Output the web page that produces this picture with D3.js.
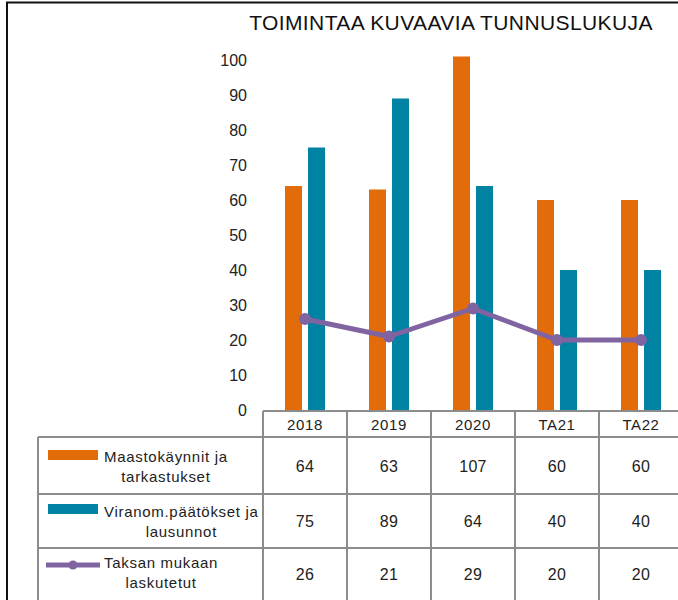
<!DOCTYPE html>
<html>
<head>
<meta charset="utf-8">
<script src="https://cdn.jsdelivr.net/npm/d3@7"></script>
<style>
  body { margin: 0; background: #fff; }
  svg { display: block; font-family: 'Liberation Sans', Arial, sans-serif; }
</style>
</head>
<body>
<div id="chart"></div>
<script>
// data
const categories = ['2018', '2019', '2020', 'TA21', 'TA22'];
const maastokaynnit = [64, 63, 107, 60, 60];
const viranomPaatokset = [75, 89, 64, 40, 40];
const taksanMukaan = [26, 21, 29, 20, 20];
const seriesNames = [
  ['Maastokäynnit ja', 'tarkastukset'],
  ['Viranom.päätökset ja', 'lausunnot'],
  ['Taksan mukaan', 'laskutetut']
];

const width = 678, height = 600;
const orange = '#E36C0A', teal = '#0082A2', purple = '#8064A2';
const gridGrey = '#8c8c8c';

const svg = d3.select('#chart').append('svg')
  .attr('width', width)
  .attr('height', height);

// outer frame (only left and top edges are in view)
svg.append('rect')
  .attr('x', 7).attr('y', 2.5)
  .attr('width', 700).attr('height', 640)
  .attr('fill', 'none')
  .attr('stroke', '#111')
  .attr('stroke-width', 2);

svg.append('text')
  .attr('x', 451).attr('y', 30)
  .attr('text-anchor', 'middle')
  .attr('font-size', 21)
  .attr('fill', '#111')
  .attr('letter-spacing', 0.4)
  .text('TOIMINTAA KUVAAVIA TUNNUSLUKUJA');

let xScale = d3.scaleBand().domain(categories).range([263, 683]);
let yScale = d3.scaleLinear().domain([0, 100]).range([410, 60]);

// y axis labels
let yAxis = d3.axisLeft(yScale).ticks(10).tickSize(0).tickPadding(0);
let gy = svg.append('g')
  .attr('transform', 'translate(247,0)')
  .call(yAxis);
gy.select('.domain').remove();
gy.selectAll('text')
  .attr('font-size', 16)
  .attr('font-family', "'Liberation Sans', Arial, sans-serif")
  .attr('fill', '#222');

// plot area clip, bars past the axis max are cut a little above 100
svg.append('clipPath').attr('id', 'plotClip')
  .append('rect')
  .attr('x', 263).attr('y', yScale(101))
  .attr('width', 420).attr('height', yScale(0) - yScale(101));

let bars = svg.append('g').attr('clip-path', 'url(#plotClip)');

bars.append('g').selectAll('rect')
  .data(maastokaynnit)
  .join('rect')
  .attr('x', (d, i) => xScale(categories[i]) + xScale.bandwidth() / 2 - 20)
  .attr('y', (d) => yScale(d))
  .attr('width', 17)
  .attr('height', (d) => yScale(0) - yScale(d))
  .attr('fill', orange);

bars.append('g').selectAll('rect')
  .data(viranomPaatokset)
  .join('rect')
  .attr('x', (d, i) => xScale(categories[i]) + xScale.bandwidth() / 2 + 3)
  .attr('y', (d) => yScale(d))
  .attr('width', 17)
  .attr('height', (d) => yScale(0) - yScale(d))
  .attr('fill', teal);

// line
let line = d3.line()
  .x((d, i) => xScale(categories[i]) + xScale.bandwidth() / 2)
  .y((d) => yScale(d));

svg.append('path')
  .datum(taksanMukaan)
  .attr('fill', 'none')
  .attr('stroke', purple)
  .attr('stroke-width', 5)
  .attr('stroke-linejoin', 'round')
  .attr('d', line);

svg.append('g').selectAll('circle')
  .data(taksanMukaan)
  .join('circle')
  .attr('cx', (d, i) => xScale(categories[i]) + xScale.bandwidth() / 2)
  .attr('cy', (d) => yScale(d))
  .attr('r', 6)
  .attr('fill', purple);

// data table
const headerTop = 411;
const rowBounds = [437, 494, 548, 603];
const tableLeft = 38;
let table = svg.append('g')
  .attr('stroke', gridGrey)
  .attr('stroke-width', 2)
  .attr('fill', 'none');

table.append('line')
  .attr('x1', xScale.range()[0]).attr('x2', xScale.range()[1])
  .attr('y1', headerTop).attr('y2', headerTop);
rowBounds.forEach((y) => {
  table.append('line')
    .attr('x1', tableLeft).attr('x2', xScale.range()[1])
    .attr('y1', y).attr('y2', y);
});
table.append('line')
  .attr('x1', tableLeft).attr('x2', tableLeft)
  .attr('y1', rowBounds[0]).attr('y2', height);
categories.forEach((c) => {
  table.append('line')
    .attr('x1', xScale(c)).attr('x2', xScale(c))
    .attr('y1', headerTop).attr('y2', height);
});

svg.append('g').selectAll('text')
  .data(categories)
  .join('text')
  .attr('x', (d) => xScale(d) + xScale.bandwidth() / 2)
  .attr('y', 430)
  .attr('text-anchor', 'middle')
  .attr('font-size', 15)
  .attr('fill', '#222')
  .attr('letter-spacing', 0.6)
  .text((d) => d);

const allSeries = [maastokaynnit, viranomPaatokset, taksanMukaan];
const rowValueY = [472, 527, 580];
allSeries.forEach((series, r) => {
  svg.append('g').selectAll('text')
    .data(series)
    .join('text')
    .attr('x', (d, i) => xScale(categories[i]) + xScale.bandwidth() / 2)
    .attr('y', rowValueY[r])
    .attr('text-anchor', 'middle')
    .attr('font-size', 16)
    .attr('fill', '#222')
    .attr('letter-spacing', 0.3)
    .text((d) => d);
});

// legend keys in the first column
const keyY = [455, 509, 565];
svg.append('rect')
  .attr('x', 48).attr('y', keyY[0] - 5)
  .attr('width', 50).attr('height', 10)
  .attr('fill', orange);
svg.append('rect')
  .attr('x', 48).attr('y', keyY[1] - 5)
  .attr('width', 50).attr('height', 10)
  .attr('fill', teal);
svg.append('line')
  .attr('x1', 46).attr('x2', 100)
  .attr('y1', keyY[2]).attr('y2', keyY[2])
  .attr('stroke', purple)
  .attr('stroke-width', 5);
svg.append('circle')
  .attr('cx', 73).attr('cy', keyY[2])
  .attr('r', 4.5)
  .attr('fill', purple);

const labelLine1 = [462, 517, 568];
seriesNames.forEach((lines, r) => {
  let first = svg.append('text')
    .attr('x', 104)
    .attr('y', labelLine1[r])
    .attr('font-size', 15)
    .attr('fill', '#222')
    .attr('letter-spacing', 0.7)
    .text(lines[0]);
  let w = first.node().getComputedTextLength();
  svg.append('text')
    .attr('x', 104 + w / 2)
    .attr('y', labelLine1[r] + 20)
    .attr('text-anchor', 'middle')
    .attr('font-size', 15)
    .attr('fill', '#222')
    .attr('letter-spacing', 0.7)
    .text(lines[1]);
});
</script>
</body>
</html>
